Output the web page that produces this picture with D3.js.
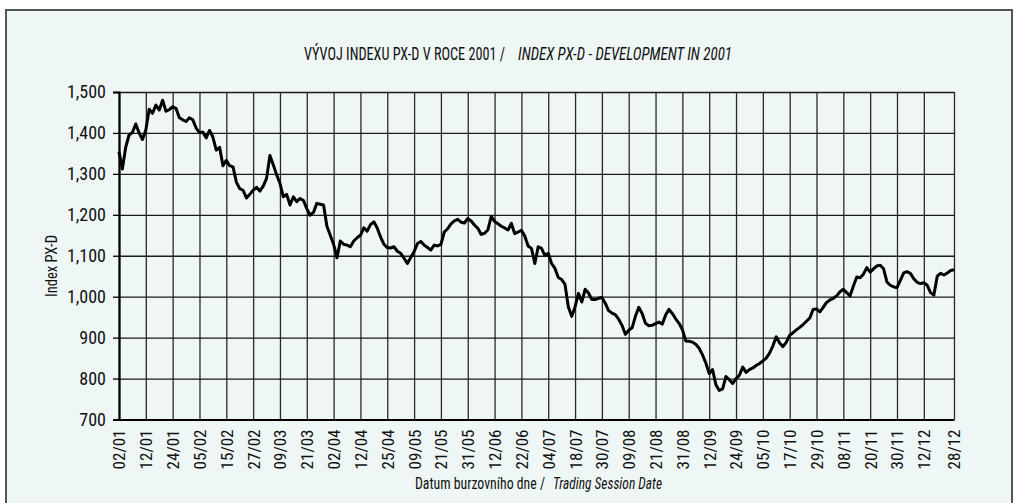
<!DOCTYPE html>
<html>
<head>
<meta charset="utf-8">
<script src="https://cdn.jsdelivr.net/npm/d3@7/dist/d3.min.js"></script>
<style>
	body { margin: 0; background: #fff; }
	svg { display: block; }
	text { font-family: "Liberation Sans Narrow", "Roboto Condensed", "DejaVu Sans Condensed", sans-serif; fill: #111; }
</style>
</head>
<body>
<svg id="chart" width="1019" height="503"></svg>
<script>
// session index of every labelled date (ticks every 8 sessions, last one on the final session)
var tickIdx = [0, 8, 16, 24, 32, 40, 48, 56, 64, 72, 80, 88, 96, 104, 112, 120,
	128, 136, 144, 152, 160, 168, 176, 184, 192, 200, 208, 216, 224, 232, 240, 249];
var tickLabels = ['02/01', '12/01', '24/01', '05/02', '15/02', '27/02', '09/03', '21/03',
	'02/04', '12/04', '25/04', '09/05', '21/05', '31/05', '12/06', '22/06', '04/07', '18/07',
	'30/07', '09/08', '21/08', '31/08', '12/09', '24/09', '05/10', '17/10', '29/10', '08/11',
	'20/11', '30/11', '12/12', '28/12'];
var yTicks = [700, 800, 900, 1000, 1100, 1200, 1300, 1400, 1500];

// PX-D closing values, one per trading session
var pxd = [
	1354, 1312, 1365, 1395, 1401, 1422, 1400, 1384, 1407, 1458,
	1448, 1468, 1456, 1480, 1453, 1457, 1464, 1460, 1437, 1432,
	1428, 1437, 1432, 1412, 1401, 1402, 1388, 1406, 1390, 1358,
	1365, 1320, 1333, 1320, 1317, 1280, 1264, 1260, 1241, 1250,
	1260, 1267, 1258, 1270, 1289, 1345, 1322, 1298, 1277, 1244,
	1250, 1224, 1244, 1232, 1240, 1235, 1215, 1199, 1206, 1228,
	1226, 1224, 1172, 1150, 1128, 1095, 1136, 1128, 1126, 1122,
	1136, 1144, 1150, 1168, 1160, 1176, 1183, 1168, 1146, 1128,
	1120, 1119, 1122, 1111, 1106, 1094, 1081, 1096, 1110, 1130,
	1135, 1126, 1120, 1114, 1126, 1124, 1128, 1158, 1166, 1178,
	1185, 1189, 1182, 1180, 1191, 1185, 1175, 1167, 1152, 1155,
	1163, 1196, 1184, 1178, 1172, 1168, 1163, 1179, 1154, 1158,
	1162, 1148, 1124, 1118, 1081, 1122, 1118, 1101, 1106, 1081,
	1069, 1047, 1042, 1030, 975, 952, 975, 1008, 987, 1018,
	1009, 993, 993, 996, 998, 984, 966, 960, 956, 945,
	930, 908, 918, 924, 952, 974, 959, 935, 929, 930,
	934, 938, 933, 955, 969, 959, 946, 935, 920, 892,
	891, 889, 884, 874, 858, 838, 812, 822, 785, 771,
	775, 805, 797, 788, 800, 808, 828, 815, 822, 826,
	832, 837, 843, 850, 862, 880, 902, 887, 878, 889,
	906, 912, 919, 925, 932, 940, 948, 969, 970, 963,
	974, 986, 992, 996, 1002, 1012, 1018, 1010, 1002, 1026,
	1048, 1046, 1055, 1071, 1060, 1068, 1075, 1077, 1068, 1036,
	1028, 1024, 1022, 1040, 1058, 1061, 1057, 1044, 1035, 1032,
	1034, 1028, 1010, 1004, 1050, 1057, 1053, 1058, 1064, 1066
];

(function(){
	var svg = d3.select('#chart');

	var plotLeft = 119, plotRight = 954, plotTop = 92, plotBottom = 419.5;

	var x = d3.scaleLinear().domain([0, pxd.length - 1]).range([plotLeft, plotRight]);
	var y = d3.scaleLinear().domain([700, 1500]).range([plotBottom, plotTop]);

	// panel
	svg.append('rect')
		.attr('x', 6).attr('y', 10)
		.attr('width', 1006).attr('height', 500)
		.attr('fill', '#eff7f6')
		.attr('stroke', '#555')
		.attr('stroke-width', 2);

	// fixed-width text pieces (condensed look of the original)
	function label(px, py, str, len, size, italic){
		return svg.append('text')
			.attr('x', px).attr('y', py)
			.attr('font-size', size)
			.attr('font-style', italic ? 'italic' : null)
			.attr('textLength', len)
			.attr('lengthAdjust', 'spacingAndGlyphs')
			.text(str);
	}

	// title
	label(304, 60, 'VÝVOJ INDEXU PX-D V ROCE 2001 /', 201, 18, false);
	label(518, 60, 'INDEX PX-D  - DEVELOPMENT IN 2001', 214, 18, true);

	// grid
	svg.append('g')
		.attr('transform', 'translate(0,' + plotBottom + ')')
		.call(d3.axisBottom(x).tickValues(tickIdx).tickSize(-(plotBottom - plotTop)).tickFormat(''))
		.call(function(g){
			g.select('.domain').remove();
			g.selectAll('line').attr('stroke', '#2a2a2a').attr('stroke-width', 1.3);
		});

	svg.append('g')
		.attr('transform', 'translate(' + plotLeft + ',0)')
		.call(d3.axisLeft(y).tickValues(yTicks).tickSize(-(plotRight - plotLeft)).tickFormat(''))
		.call(function(g){
			g.select('.domain').remove();
			g.selectAll('line').attr('stroke', '#1a1a1a').attr('stroke-width', 1.3);
		});

	// y axis
	svg.append('g')
		.attr('transform', 'translate(' + plotLeft + ',0)')
		.call(d3.axisLeft(y).tickValues(yTicks).tickSize(6).tickPadding(7).tickFormat(d3.format(',')))
		.call(function(g){
			g.select('.domain').attr('stroke', '#000').attr('stroke-width', 2.2);
			g.selectAll('line').attr('stroke', '#000').attr('stroke-width', 1.3);
			g.selectAll('text')
				.attr('font-size', 18)
				.attr('fill', '#111');
		});

	// x axis
	svg.append('g')
		.attr('transform', 'translate(0,' + plotBottom + ')')
		.call(d3.axisBottom(x).tickValues(tickIdx).tickSize(0).tickPadding(0)
			.tickFormat(function(d, i){ return tickLabels[i]; }))
		.call(function(g){
			g.select('.domain').attr('stroke', '#000').attr('stroke-width', 2.2);
			g.selectAll('text')
				.attr('font-size', 17)
				.attr('fill', '#111')
				.attr('text-anchor', 'end')
				.attr('dy', '0.35em')
				.attr('transform', 'translate(0,10) rotate(-90)');
		});
	svg.selectAll('g').attr('font-family', null);

	// line
	svg.append('path')
		.datum(pxd)
		.attr('fill', 'none')
		.attr('stroke', '#000')
		.attr('stroke-width', 3)
		.attr('stroke-linejoin', 'round')
		.attr('d', d3.line()
			.x(function(d, i){ return x(i); })
			.y(function(d){ return y(d); }));

	// axis titles
	svg.append('text')
		.attr('transform', 'translate(57,266) rotate(-90)')
		.attr('text-anchor', 'middle')
		.attr('font-size', 16)
		.attr('textLength', 62)
		.attr('lengthAdjust', 'spacingAndGlyphs')
		.text('Index  PX-D');

	label(415, 489, 'Datum burzovního dne /', 130, 16, false);
	label(553, 489, 'Trading Session Date', 109, 16, true);
})();
</script>
</body>
</html>
